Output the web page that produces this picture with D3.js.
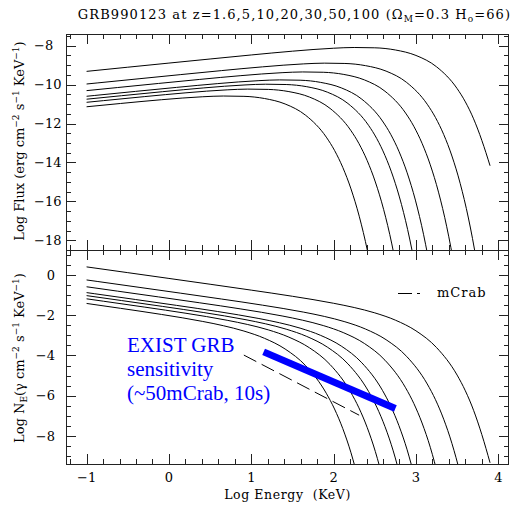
<!DOCTYPE html>
<html><head><meta charset="utf-8">
<script src="https://cdn.jsdelivr.net/npm/d3@7"></script>
<style>body{margin:0;background:#fff}svg{display:block}</style>
</head><body>
<script>
// ---- data ----
const redshifts = [1.6, 5, 10, 20, 30, 50, 100];

// log energy (keV) sample points for each redshift curve
const logE = [
  [-1,-0.5,0,0.5,1,1.5,2,2.25,2.5,2.75,3,3.25,3.5,3.6,3.7,3.8,3.9],
  [-1,-0.863,-0.363,0.137,0.637,1.137,1.637,1.887,2.137,2.387,2.637,2.887,3.137,3.237,3.337,3.437,3.537,3.637,3.687,3.737],
  [-1,-0.626,-0.126,0.374,0.874,1.374,1.624,1.874,2.124,2.374,2.624,2.874,2.974,3.074,3.174,3.274,3.374,3.424,3.474],
  [-1,-0.907,-0.407,0.093,0.593,1.093,1.343,1.593,1.843,2.093,2.343,2.593,2.693,2.793,2.893,2.993,3.093,3.143,3.193],
  [-1,-0.576,-0.076,0.424,0.924,1.174,1.424,1.674,1.924,2.174,2.424,2.524,2.624,2.724,2.824,2.924,2.974,3.024],
  [-1,-0.793,-0.293,0.207,0.707,0.957,1.207,1.457,1.707,1.957,2.207,2.307,2.407,2.507,2.607,2.707,2.757],
  [-1,-0.589,-0.089,0.411,0.661,0.911,1.161,1.411,1.661,1.911,2.011,2.111,2.211,2.311,2.411,2.461]
];
// log energy flux (top panel)
const logFlux = [
  [-9.320,-9.107,-8.895,-8.684,-8.477,-8.283,-8.131,-8.093,-8.109,-8.221,-8.502,-9.085,-10.205,-10.887,-11.759,-12.866,-14.170],
  [-9.970,-9.912,-9.700,-9.489,-9.282,-9.088,-8.936,-8.898,-8.914,-9.026,-9.307,-9.890,-11.010,-11.692,-12.564,-13.671,-15.075,-16.855,-17.915,-19.105],
  [-10.310,-10.152,-9.941,-9.734,-9.540,-9.388,-9.350,-9.366,-9.478,-9.759,-10.342,-11.462,-12.144,-13.016,-14.123,-15.527,-17.307,-18.367,-19.557],
  [-10.600,-10.561,-10.350,-10.143,-9.949,-9.797,-9.759,-9.775,-9.887,-10.168,-10.751,-11.871,-12.553,-13.425,-14.532,-15.936,-17.716,-18.776,-19.966],
  [-10.750,-10.571,-10.364,-10.170,-10.018,-9.980,-9.996,-10.108,-10.389,-10.972,-12.092,-12.774,-13.646,-14.753,-16.157,-17.937,-18.997,-20.187],
  [-10.910,-10.823,-10.616,-10.422,-10.270,-10.232,-10.248,-10.360,-10.641,-11.224,-12.344,-13.026,-13.898,-15.005,-16.409,-18.189,-19.249],
  [-11.140,-10.971,-10.777,-10.625,-10.587,-10.603,-10.715,-10.996,-11.579,-12.699,-13.381,-14.253,-15.360,-16.764,-18.544,-19.604]
];
// log photon flux N_E (bottom panel)
const logPhot = [
  [0.410,0.123,-0.165,-0.454,-0.747,-1.053,-1.401,-1.613,-1.879,-2.241,-2.772,-3.605,-4.975,-5.757,-6.729,-7.936,-9.340],
  [-0.240,-0.319,-0.607,-0.896,-1.189,-1.495,-1.843,-2.055,-2.321,-2.683,-3.214,-4.047,-5.417,-6.199,-7.171,-8.378,-9.882,-11.762],
  [-0.580,-0.796,-1.085,-1.378,-1.684,-2.032,-2.244,-2.510,-2.872,-3.403,-4.236,-5.606,-6.388,-7.360,-8.567,-10.071],
  [-0.870,-0.924,-1.213,-1.506,-1.812,-2.160,-2.372,-2.638,-3.000,-3.531,-4.364,-5.734,-6.516,-7.488,-8.695,-10.199],
  [-1.020,-1.265,-1.558,-1.864,-2.212,-2.424,-2.690,-3.052,-3.583,-4.416,-5.786,-6.568,-7.540,-8.747,-10.251],
  [-1.180,-1.300,-1.593,-1.899,-2.247,-2.459,-2.725,-3.087,-3.618,-4.451,-5.821,-6.603,-7.575,-8.782,-10.286],
  [-1.410,-1.652,-1.958,-2.306,-2.518,-2.784,-3.146,-3.677,-4.510,-5.880,-6.662,-7.634,-8.841,-10.345]
];
// mCrab reference (dashed) and EXIST sensitivity (blue)
const mcrabE = [0.91, 2.31];
const mcrabN = [-3.98, -6.97];
const existE = [1.15, 2.75];
const existN = [-3.82, -6.64];

// tick values
const xTicks = [-1, 0, 1, 2, 3, 4];
const yTopTicks = [-8, -10, -12, -14, -16, -18];
const yBotTicks = [0, -2, -4, -6, -8];
const existLines = ["EXIST GRB", "sensitivity", "(~50mCrab, 10s)"];

// ---- layout ----
const W = 510, H = 510;
const L = 66, R = 509, T1 = 34, B1 = 250, T2 = 250, B2 = 464;
const FONT = "DejaVu Serif";

const x = d3.scaleLinear().domain([-1.25, 4.13]).range([L, R]);
const yTop = d3.scaleLinear().domain([-18.5, -7.4]).range([B1, T1]);
const yBot = d3.scaleLinear().domain([-9.4, 1.25]).range([B2, T2]);

const svg = d3.select("body").append("svg").attr("width", W).attr("height", H)
  .style("font-family", FONT);

const defs = svg.append("defs");
defs.append("clipPath").attr("id", "clipTop").append("rect")
  .attr("x", L).attr("y", T1).attr("width", R - L).attr("height", B1 - T1);
defs.append("clipPath").attr("id", "clipBot").append("rect")
  .attr("x", L).attr("y", T2).attr("width", R - L).attr("height", B2 - T2);

const minorX = d3.range(-1.2, 4.13, 0.2).map(v => +v.toFixed(2)).filter(v => Math.abs(v - Math.round(v)) > 1e-6);
const minorYTop = d3.range(-18.5, -7.39, 0.5).filter(v => Math.abs(v / 2 - Math.round(v / 2)) > 1e-6);
const minorYBot = d3.range(-9, 1.26, 0.5).filter(v => Math.abs(v / 2 - Math.round(v / 2)) > 1e-6);

function addTicks(g, axisFn, scale, majors, minors) {
  g.append("g").call(axisFn(scale).tickValues(majors).tickSize(-10).tickSizeOuter(0).tickFormat(""))
    .call(a => a.select(".domain").remove());
  g.append("g").call(axisFn(scale).tickValues(minors).tickSize(-5).tickSizeOuter(0).tickFormat(""))
    .call(a => a.select(".domain").remove());
  g.selectAll("line").attr("stroke", "#222").attr("shape-rendering", "crispEdges");
}

function panel(yScale, t, b, yMaj, yMin, clipId, ys) {
  const g = svg.append("g");
  addTicks(g.append("g").attr("transform", `translate(0,${b})`), d3.axisBottom, x, xTicks, minorX);
  addTicks(g.append("g").attr("transform", `translate(0,${t})`), d3.axisTop, x, xTicks, minorX);
  addTicks(g.append("g").attr("transform", `translate(${L},0)`), d3.axisLeft, yScale, yMaj, yMin);
  addTicks(g.append("g").attr("transform", `translate(${R},0)`), d3.axisRight, yScale, yMaj, yMin);
  g.append("rect").attr("x", L + 0.5).attr("y", t + 0.5).attr("width", R - L - 1).attr("height", b - t)
    .attr("fill", "none").attr("stroke", "#222").attr("shape-rendering", "crispEdges");
  const line = d3.line().x(d => x(d[0])).y(d => yScale(d[1])).curve(d3.curveMonotoneX);
  const cg = g.append("g").attr("clip-path", `url(#${clipId})`);
  cg.selectAll("path.curve").data(redshifts.map((z, i) => d3.zip(logE[i], ys[i])))
    .join("path").attr("class", "curve").attr("d", line)
    .attr("fill", "none").attr("stroke", "#000").attr("stroke-width", 1);
  return { g, cg, yScale };
}

const topPanel = panel(yTop, T1, B1, yTopTicks, minorYTop, "clipTop", logFlux);
const botPanel = panel(yBot, T2, B2, yBotTicks, minorYBot, "clipBot", logPhot);

const straight = d3.line().x(d => x(d[0])).y(d => yBot(d[1]));
botPanel.cg.append("path").attr("d", straight(d3.zip(mcrabE, mcrabN)))
  .attr("fill", "none").attr("stroke", "#000").attr("stroke-width", 1).attr("stroke-dasharray", "14,6");
botPanel.cg.append("path").attr("d", straight(d3.zip(existE, existN)))
  .attr("fill", "none").attr("stroke", "#0000ff").attr("stroke-width", 7).attr("stroke-linecap", "butt");

// legend
svg.append("line").attr("x1", 398).attr("x2", 420).attr("y1", 293.5).attr("y2", 293.5)
  .attr("stroke", "#000").attr("stroke-dasharray", "14,5");
svg.append("text").attr("x", 437).attr("y", 297).attr("font-size", 13).attr("letter-spacing", 1)
  .text("mCrab");

// blue annotation
const bt = svg.append("text").attr("font-family", "Liberation Serif").attr("font-size", 21).attr("fill", "#0000ff");
existLines.forEach((s, i) => bt.append("tspan").attr("x", 127).attr("y", 352 + i * 24).text(s));

// x tick labels
svg.append("g").selectAll("text").data(xTicks).join("text")
  .attr("x", d => x(d)).attr("y", 482).attr("text-anchor", "middle").attr("font-size", 13)
  .text(d => d < 0 ? "\u2212" + Math.abs(d) : d);
// y tick labels
svg.append("g").selectAll("text").data(yTopTicks).join("text")
  .attr("x", 34).attr("y", d => yTop(d) + 4.7).attr("text-anchor", "start").attr("font-size", 13)
  .text(d => "\u2212" + Math.abs(d));
svg.append("g").selectAll("text").data(yBotTicks).join("text")
  .attr("x", 55).attr("y", d => yBot(d) + 4.7).attr("text-anchor", "end").attr("font-size", 13)
  .text(d => d < 0 ? "\u2212" + Math.abs(d) : d);

// axis titles
svg.append("text").attr("x", (L + R) / 2).attr("y", 499).attr("text-anchor", "middle").attr("font-size", 12.5)
  .attr("letter-spacing", 0.6).style("white-space", "pre").text("Log Energy  (KeV)");

function richText(t, parts) {
  parts.forEach(p => {
    const ts = t.append("tspan").text(p.t);
    if (p.s === "sup") ts.attr("dy", -5).attr("font-size", 9);
    if (p.s === "sub") ts.attr("dy", 3).attr("font-size", 9);
    if (p.back) ts.attr("dy", p.back);
  });
}
const yt1 = svg.append("text").attr("transform", `translate(24,${(T1 + B1) / 2 - 1}) rotate(-90)`)
  .attr("text-anchor", "middle").attr("font-size", 13);
richText(yt1, [{t: "Log Flux (erg cm"}, {t: "\u22122", s: "sup"}, {t: " s", back: 5}, {t: "\u22121", s: "sup"},
  {t: " KeV", back: 5}, {t: "\u22121", s: "sup"}, {t: ")", back: 5}]);
const yt2 = svg.append("text").attr("transform", `translate(24,${(T2 + B2) / 2 + 1}) rotate(-90)`)
  .attr("text-anchor", "middle").attr("font-size", 13);
richText(yt2, [{t: "Log N"}, {t: "E", s: "sub"}, {t: "(\u03b3 cm", back: -3}, {t: "\u22122", s: "sup"}, {t: " s", back: 5},
  {t: "\u22121", s: "sup"}, {t: " KeV", back: 5}, {t: "\u22121", s: "sup"}, {t: ")", back: 5}]);

// title
const tt = svg.append("text").attr("x", 294.5).attr("y", 19).attr("text-anchor", "middle").attr("font-size", 13)
  .attr("letter-spacing", 1.1);
richText(tt, [{t: "GRB990123 at z=" + redshifts.join(",") + " (\u03a9"}, {t: "M", s: "sub"}, {t: "=0.3 H", back: -3},
  {t: "o", s: "sub"}, {t: "=66)", back: -3}]);
</script>
</body></html>
